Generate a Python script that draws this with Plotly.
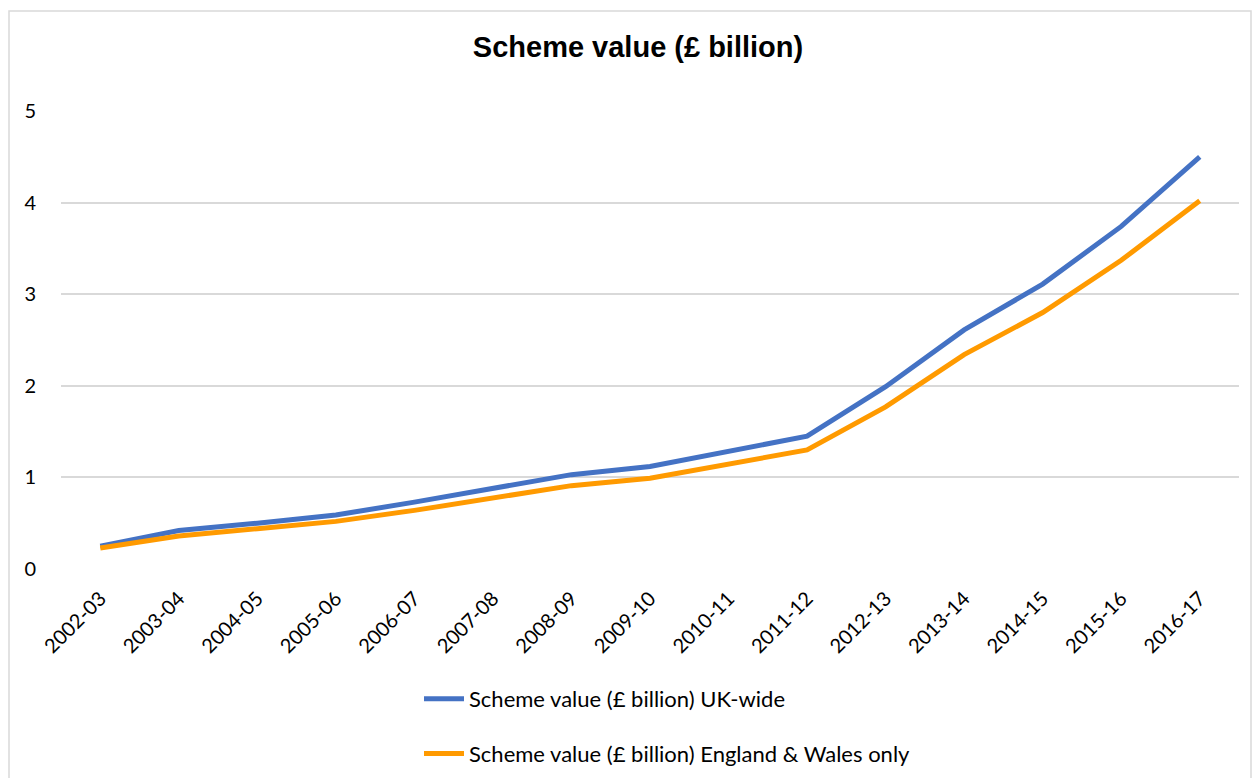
import plotly.graph_objects as go

# Financial years on the category axis
years = ["2002-03", "2003-04", "2004-05", "2005-06", "2006-07", "2007-08",
         "2008-09", "2009-10", "2010-11", "2011-12", "2012-13", "2013-14",
         "2014-15", "2015-16", "2016-17"]

# Scheme value, £ billion
uk_wide = [0.25, 0.42, 0.50, 0.59, 0.73, 0.88, 1.03, 1.12, 1.29, 1.45,
           1.99, 2.61, 3.11, 3.74, 4.50]
england_wales = [0.23, 0.36, 0.44, 0.52, 0.64, 0.77, 0.91, 0.99, 1.15, 1.30,
                 1.77, 2.34, 2.80, 3.37, 4.02]

y_ticks = [0, 1, 2, 3, 4, 5]

W, H = 1254, 778
ML, MR, MT, MB = 61, 15, 111, 209
PW, PH = W - ML - MR, H - MT - MB

def px_x(p):
    return (p - ML) / PW

def px_y(p):
    return (H - MB - p) / PH

BLUE = "#4472C4"
ORANGE = "#FF9A00"

fig = go.Figure()
fig.add_trace(go.Scatter(
    x=years, y=uk_wide, mode="lines",
    name="Scheme value (£ billion) UK-wide",
    line=dict(color=BLUE, width=5), legendgroup="uk",
))
fig.add_trace(go.Scatter(
    x=years, y=england_wales, mode="lines",
    name="Scheme value (£ billion) England & Wales only",
    line=dict(color=ORANGE, width=5), legendgroup="ew",
))

fig.update_layout(
    width=W, height=H,
    margin=dict(l=ML, r=MR, t=MT, b=MB, pad=0, autoexpand=False),
    paper_bgcolor="white", plot_bgcolor="white",
    font=dict(family="Lato, Calibri, sans-serif", color="#000000"),
    title=dict(
        text="<b>Scheme value (£ billion)</b>",
        font=dict(family="Liberation Sans, Arial, sans-serif", size=29, color="#000000"),
        x=638 / W, xanchor="center", y=1 - 47 / H, yanchor="middle",
    ),
    xaxis=dict(
        type="category", range=[-0.5, len(years) - 0.5], automargin=False,
        tickangle=-45, showgrid=False, zeroline=False,
        showline=False, ticks="", tickfont=dict(size=20),
        ticklabelstandoff=13,
    ),
    yaxis=dict(
        range=[0, 5], tickvals=y_ticks, showgrid=True, gridcolor="#d9d9d9",
        gridwidth=1.6, zeroline=False, showline=False, ticks="", automargin=False,
        tickfont=dict(size=20), ticklabelstandoff=24,
    ),
    legend=dict(
        orientation="v", x=px_x(419), xanchor="left",
        y=px_y(678), yanchor="top",
        font=dict(size=22), tracegroupgap=23,
        bgcolor="rgba(0,0,0,0)", itemwidth=40,
    ),
    showlegend=True,
    shapes=[dict(
        type="rect", xref="paper", yref="paper",
        x0=px_x(9), x1=px_x(1251), y0=px_y(790), y1=px_y(11),
        line=dict(color="#d9d9d9", width=1.5), fillcolor="rgba(0,0,0,0)",
        layer="below",
    )],
)

fig.write_html("out.html")
